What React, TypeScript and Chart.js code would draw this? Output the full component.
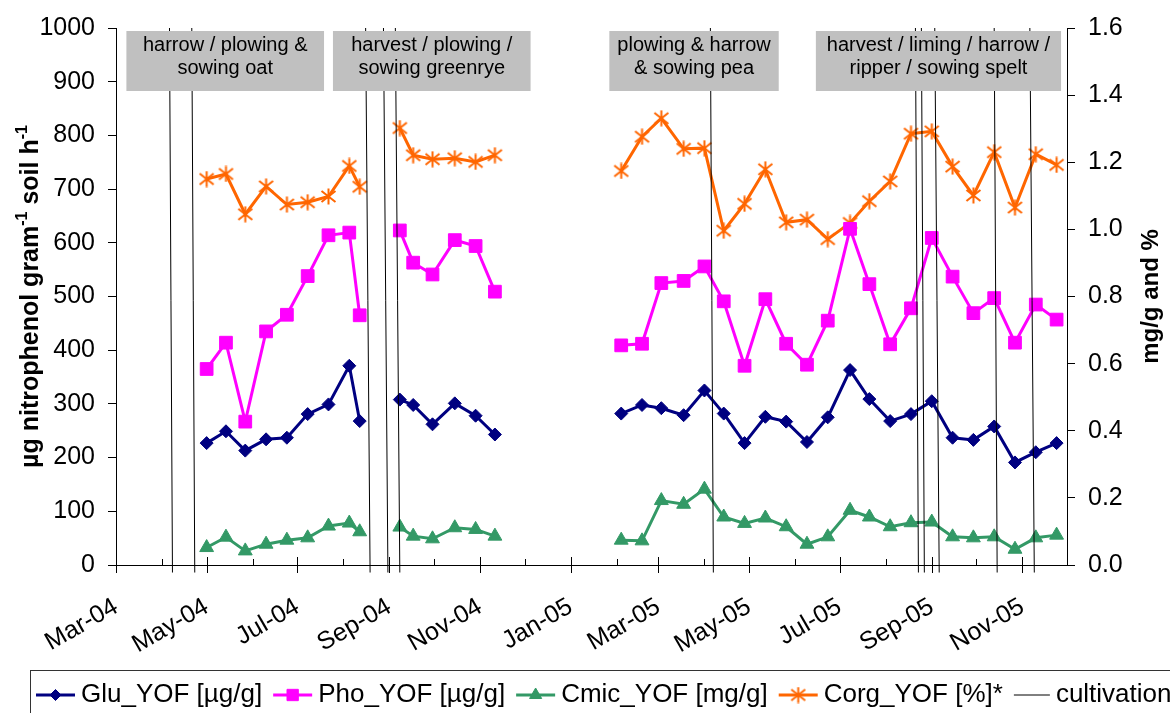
import React, { useEffect, useRef } from 'react';
import { Chart, registerables } from 'chart.js';

Chart.register(...registerables);

const FONT = '"Liberation Sans", Arial, Helvetica, sans-serif';
Chart.defaults.font.family = FONT;
Chart.defaults.color = '#000';

// ---------- axis ----------
const axisStart = '2004-03-01';
const axisEnd = '2005-12-01';
const monthTicks = [
  '2004-03-01', '2004-04-01', '2004-05-01', '2004-06-01', '2004-07-01', '2004-08-01',
  '2004-09-01', '2004-10-01', '2004-11-01', '2004-12-01',
  '2005-01-01', '2005-02-01', '2005-03-01', '2005-04-01', '2005-05-01', '2005-06-01',
  '2005-07-01', '2005-08-01', '2005-09-01', '2005-10-01', '2005-11-01', '2005-12-01',
];
const labelTickDates = [
  '2004-03-01', '2004-05-01', '2004-07-01', '2004-09-01', '2004-11-01', '2005-01-01',
  '2005-03-01', '2005-05-01', '2005-07-01', '2005-09-01', '2005-11-01',
];
const tickLabels = ['Mar-04', 'May-04', 'Jul-04', 'Sep-04', 'Nov-04', 'Jan-05', 'Mar-05', 'May-05', 'Jul-05', 'Sep-05', 'Nov-05'];

// ---------- data (null = gap in the series) ----------
const sampleDates = [
  '2004-05-01', '2004-05-14', '2004-05-27', '2004-06-10', '2004-06-24', '2004-07-08', '2004-07-22', '2004-08-05', '2004-08-12',
  '2004-08-26',
  '2004-09-08', '2004-09-17', '2004-09-30', '2004-10-15', '2004-10-29', '2004-11-11',
  '2005-01-01',
  '2005-02-04', '2005-02-18', '2005-03-03', '2005-03-18', '2005-04-01', '2005-04-14', '2005-04-28', '2005-05-12',
  '2005-05-26', '2005-06-09', '2005-06-23', '2005-07-08', '2005-07-21', '2005-08-04', '2005-08-18', '2005-09-01',
  '2005-09-15', '2005-09-29', '2005-10-13', '2005-10-27', '2005-11-10', '2005-11-24',
];
const gluValues = [
  227, 249, 213, 234, 237, 281, 299, 371, 268,
  null,
  308, 298, 262, 301, 278, 243,
  null,
  282, 298, 292, 279, 325, 282, 227, 276, 267, 229, 275, 363, 309, 268, 281, 305, 237, 233, 258, 191, 210, 227,
];
const phoValues = [
  365, 414, 267, 435, 466, 538, 614, 619, 465,
  null,
  623, 563, 541, 605, 594, 509,
  null,
  409, 412, 525, 529, 556, 491, 371, 495, 412, 373, 455, 626, 523, 411, 478, 609, 537, 469, 497, 414, 485, 457,
];
const cmicValues = [
  0.052, 0.083, 0.042, 0.062, 0.074, 0.081, 0.116, 0.125, 0.099,
  null,
  0.113, 0.086, 0.078, 0.111, 0.106, 0.086,
  null,
  0.074, 0.072, 0.192, 0.181, 0.226, 0.143, 0.124, 0.14, 0.114, 0.062, 0.084, 0.163, 0.143, 0.114, 0.126, 0.128,
  0.084, 0.081, 0.084, 0.047, 0.081, 0.089,
];
const corgValues = [
  1.15, 1.165, 1.045, 1.128, 1.074, 1.081, 1.098, 1.189, 1.127,
  null,
  1.302, 1.221, 1.209, 1.212, 1.201, 1.221,
  null,
  1.174, 1.276, 1.331, 1.24, 1.242, 0.996, 1.076, 1.179, 1.021, 1.029, 0.971, 1.019, 1.084, 1.143, 1.285, 1.292,
  1.187, 1.101, 1.23, 1.065, 1.224, 1.192,
];

// cultivation events (vertical lines, top date / bottom date)
const cultivationTop = [
  '2004-04-06', '2004-04-21', '2004-08-16', '2004-08-28', '2004-09-05',
  '2005-04-05', '2005-08-21', '2005-08-25', '2005-09-03', '2005-10-13', '2005-11-06',
];
const cultivationBottom = [
  '2004-04-08', '2004-04-23', '2004-08-19', '2004-08-31', '2004-09-08',
  '2005-04-07', '2005-08-23', '2005-08-27', '2005-09-06', '2005-10-15', '2005-11-09',
];

// annotation boxes
const boxLines = [
  ['harrow / plowing &', 'sowing oat'],
  ['harvest / plowing /', 'sowing greenrye'],
  ['plowing & harrow', '& sowing pea'],
  ['harvest / liming / harrow /', 'ripper / sowing spelt'],
];
const boxStart = ['2004-03-08', '2004-07-25', '2005-01-27', '2005-06-15'];
const boxEnd = ['2004-07-19', '2004-12-05', '2005-05-21', '2005-11-27'];

const seriesNames = ['Glu_YOF [µg/g]', 'Pho_YOF [µg/g]', 'Cmic_YOF [mg/g]', 'Corg_YOF [%]*', 'cultivation'];

const COLORS = {
  glu: '#000080',
  pho: '#FF00FF',
  cmic: '#339966',
  corg: '#FF6600',
};

const ORIGIN = Date.UTC(2004, 2, 1);
function toDay(s: string): number {
  const [y, m, d] = s.split('-').map(Number);
  return Math.round((Date.UTC(y, m - 1, d) - ORIGIN) / 86400000);
}

function makeStar(color: string): HTMLCanvasElement {
  const size = 17;
  const c = document.createElement('canvas');
  c.width = size;
  c.height = size;
  const ctx = c.getContext('2d')!;
  ctx.strokeStyle = color;
  ctx.lineWidth = 2;
  ctx.beginPath();
  ctx.moveTo(size / 2, 0.5);
  ctx.lineTo(size / 2, size - 0.5);
  ctx.moveTo(1.5, 3);
  ctx.lineTo(size - 1.5, size - 3);
  ctx.moveTo(1.5, size - 3);
  ctx.lineTo(size - 1.5, 3);
  ctx.stroke();
  return c;
}

function drawMarker(ctx: CanvasRenderingContext2D, style: any, x: number, y: number, r: number, color: string) {
  ctx.save();
  ctx.fillStyle = color;
  ctx.strokeStyle = color;
  ctx.lineWidth = 1;
  ctx.beginPath();
  if (style === 'rectRot') {
    ctx.moveTo(x - r, y);
    ctx.lineTo(x, y - r);
    ctx.lineTo(x + r, y);
    ctx.lineTo(x, y + r);
    ctx.closePath();
    ctx.fill();
    ctx.stroke();
  } else if (style === 'rect') {
    const s = r * Math.SQRT1_2;
    ctx.rect(x - s, y - s, 2 * s, 2 * s);
    ctx.fill();
    ctx.stroke();
  } else if (style === 'triangle') {
    for (let k = 0; k < 3; k++) {
      const a = -Math.PI / 2 + (k * 2 * Math.PI) / 3;
      const px = x + Math.cos(a) * r;
      const py = y + Math.sin(a) * r;
      if (k === 0) ctx.moveTo(px, py);
      else ctx.lineTo(px, py);
    }
    ctx.closePath();
    ctx.fill();
    ctx.stroke();
  } else if (style instanceof HTMLCanvasElement) {
    ctx.drawImage(style, x - style.width / 2, y - style.height / 2);
  }
  ctx.restore();
}

export default function App() {
  const ref = useRef<HTMLCanvasElement>(null);

  useEffect(() => {
    const canvas = ref.current!;
    const star = makeStar(COLORS.corg);

    const pts = (vals: (number | null)[]) => sampleDates.map((d, i) => ({ x: toDay(d), y: vals[i] }));

    const cultData: { x: number; y: number | null }[] = [];
    cultivationTop.forEach((t, i) => {
      const b = toDay(cultivationBottom[i]);
      cultData.push({ x: toDay(t), y: 1000 }, { x: b, y: -14 }, { x: b, y: null });
    });

    const labelDays = labelTickDates.map(toDay);

    const xTicksPlugin = {
      id: 'xTicks',
      afterDraw(chart: any) {
        const { ctx, scales } = chart;
        const xs = scales.x;
        const yb = chart.chartArea.bottom;
        ctx.save();
        ctx.strokeStyle = '#000';
        ctx.lineWidth = 1;
        monthTicks.forEach((d) => {
          const day = toDay(d);
          const px = Math.round(xs.getPixelForValue(day)) + 0.5;
          const major = labelDays.indexOf(day) >= 0;
          ctx.beginPath();
          ctx.moveTo(px, major ? yb - 8 : yb - 6);
          ctx.lineTo(px, major ? yb + 8 : yb);
          ctx.stroke();
        });
        ctx.restore();
      },
    };

    const boxesPlugin = {
      id: 'boxes',
      afterDatasetsDraw(chart: any) {
        const { ctx, chartArea, scales } = chart;
        const xs = scales.x;
        ctx.save();
        boxStart.forEach((s, i) => {
          const x0 = xs.getPixelForValue(toDay(s));
          const x1 = xs.getPixelForValue(toDay(boxEnd[i]));
          const y0 = chartArea.top + 3;
          ctx.fillStyle = '#C0C0C0';
          ctx.fillRect(x0, y0, x1 - x0, 60);
          ctx.fillStyle = '#000';
          ctx.font = `20px ${FONT}`;
          ctx.textAlign = 'center';
          ctx.textBaseline = 'middle';
          boxLines[i].forEach((t, j) => ctx.fillText(t, (x0 + x1) / 2, y0 + 14 + j * 23));
        });
        ctx.restore();
      },
    };

    const titlesPlugin = {
      id: 'titles',
      afterDraw(chart: any) {
        const { ctx, chartArea } = chart;
        const cy = (chartArea.top + chartArea.bottom) / 2;
        const main = `bold 25px ${FONT}`;
        const sup = `bold 16px ${FONT}`;
        const parts = [
          { t: 'µg nitrophenol gram', s: false },
          { t: '-1', s: true },
          { t: ' soil h', s: false },
          { t: '-1', s: true },
        ];
        ctx.save();
        ctx.fillStyle = '#000';
        ctx.translate(31, cy);
        ctx.rotate(-Math.PI / 2);
        ctx.textBaseline = 'middle';
        ctx.textAlign = 'left';
        let total = 0;
        parts.forEach((p) => {
          ctx.font = p.s ? sup : main;
          total += ctx.measureText(p.t).width;
        });
        let x = -total / 2;
        parts.forEach((p) => {
          ctx.font = p.s ? sup : main;
          ctx.fillText(p.t, x, p.s ? -8 : 0);
          x += ctx.measureText(p.t).width;
        });
        ctx.restore();

        ctx.save();
        ctx.fillStyle = '#000';
        ctx.translate(1151, cy);
        ctx.rotate(-Math.PI / 2);
        ctx.textBaseline = 'middle';
        ctx.textAlign = 'center';
        ctx.font = `bold 24px ${FONT}`;
        ctx.fillText('mg/g and %', 0, 0);
        ctx.restore();
      },
    };

    const legendPlugin = {
      id: 'customLegend',
      afterDraw(chart: any) {
        const { ctx } = chart;
        const items = [
          { color: COLORS.glu, lw: 3, style: 'rectRot', r: 5.5 },
          { color: COLORS.pho, lw: 3, style: 'rect', r: 8 },
          { color: COLORS.cmic, lw: 3, style: 'triangle', r: 7 },
          { color: COLORS.corg, lw: 3, style: star, r: 7 },
          { color: '#000', lw: 1, style: null, r: 0 },
        ];
        ctx.save();
        ctx.strokeStyle = '#333';
        ctx.lineWidth = 1;
        ctx.strokeRect(30.5, 670.5, 1300, 100);
        const y = 695;
        let x = 36;
        items.forEach((it, i) => {
          const len = i === 4 ? 36 : 39;
          ctx.strokeStyle = it.color;
          ctx.lineWidth = it.lw;
          ctx.beginPath();
          ctx.moveTo(x, y);
          ctx.lineTo(x + len, y);
          ctx.stroke();
          if (it.style) drawMarker(ctx, it.style, x + len / 2, y, it.r, it.color);
          x += len + 6;
          ctx.fillStyle = '#000';
          ctx.font = `26px ${FONT}`;
          ctx.textAlign = 'left';
          ctx.textBaseline = 'middle';
          ctx.fillText(seriesNames[i], x, y);
          x += ctx.measureText(seriesNames[i]).width + 11;
        });
        ctx.restore();
      },
    };

    const chart = new Chart(canvas, {
      type: 'line',
      data: {
        datasets: [
          {
            label: seriesNames[0],
            data: pts(gluValues),
            yAxisID: 'y',
            borderColor: COLORS.glu,
            backgroundColor: COLORS.glu,
            borderWidth: 3,
            pointStyle: 'rectRot',
            pointRadius: 6.5,
            pointBorderWidth: 1,
            spanGaps: false,
          },
          {
            label: seriesNames[1],
            data: pts(phoValues),
            yAxisID: 'y',
            borderColor: COLORS.pho,
            backgroundColor: COLORS.pho,
            borderWidth: 3,
            pointStyle: 'rect',
            pointRadius: 9,
            pointBorderWidth: 1,
            spanGaps: false,
          },
          {
            label: seriesNames[2],
            data: pts(cmicValues),
            yAxisID: 'y1',
            borderColor: COLORS.cmic,
            backgroundColor: COLORS.cmic,
            borderWidth: 3,
            pointStyle: 'triangle',
            pointRadius: 8,
            pointBorderWidth: 1,
            spanGaps: false,
          },
          {
            label: seriesNames[3],
            data: pts(corgValues),
            yAxisID: 'y1',
            borderColor: COLORS.corg,
            backgroundColor: COLORS.corg,
            borderWidth: 3,
            pointStyle: star as any,
            pointRadius: 8,
            spanGaps: false,
          },
          {
            label: seriesNames[4],
            data: cultData as any,
            yAxisID: 'y',
            borderColor: '#000',
            borderWidth: 1,
            pointRadius: 0,
            spanGaps: false,
            clip: false as any,
            order: -1,
          },
        ],
      },
      options: {
        responsive: false,
        animation: false,
        devicePixelRatio: 1,
        layout: { padding: { top: 22, left: 0, right: 0, bottom: 0 } },
        elements: { line: { tension: 0 } },
        plugins: {
          legend: { display: false },
          tooltip: { enabled: false },
          title: { display: false },
        },
        scales: {
          x: {
            type: 'linear',
            min: toDay(axisStart),
            max: toDay(axisEnd),
            afterBuildTicks: (scale: any) => {
              scale.ticks = monthTicks.map((d) => ({ value: toDay(d) }));
            },
            afterFit: (scale: any) => {
              scale.height = 148;
            },
            ticks: {
              autoSkip: false,
              minRotation: 30,
              maxRotation: 30,
              padding: 27,
              font: { size: 25 },
              color: '#000',
              callback: (v: any) => {
                const i = labelDays.indexOf(Math.round(Number(v)));
                return i >= 0 ? tickLabels[i] : '';
              },
            },
            grid: { display: true, drawOnChartArea: false, drawTicks: false },
            border: { display: true, color: '#000', width: 1 },
          },
          y: {
            position: 'left',
            min: 0,
            max: 1000,
            afterFit: (scale: any) => {
              scale.width = 116;
            },
            ticks: {
              stepSize: 100,
              padding: 13,
              font: { size: 25 },
              color: '#000',
              callback: (v: any) => String(Math.round(Number(v))),
            },
            grid: { drawOnChartArea: false, drawTicks: true, tickLength: 8, tickColor: '#000' },
            border: { display: true, color: '#000', width: 1 },
          },
          y1: {
            position: 'right',
            min: 0,
            max: 1.6,
            afterFit: (scale: any) => {
              scale.width = 103;
            },
            ticks: {
              stepSize: 0.2,
              padding: 13,
              font: { size: 25 },
              color: '#000',
              callback: (v: any) => Number(v).toFixed(1),
            },
            grid: { drawOnChartArea: false, drawTicks: true, tickLength: 8, tickColor: '#000' },
            border: { display: true, color: '#000', width: 1 },
          },
        },
      } as any,
      plugins: [boxesPlugin, xTicksPlugin, titlesPlugin, legendPlugin],
    });

    return () => chart.destroy();
  }, []);

  return (
    <div style={{ position: 'fixed', left: 0, top: 0, width: 1170, height: 713, background: '#fff' }}>
      <canvas ref={ref} width={1170} height={713} style={{ display: 'block' }} />
    </div>
  );
}
